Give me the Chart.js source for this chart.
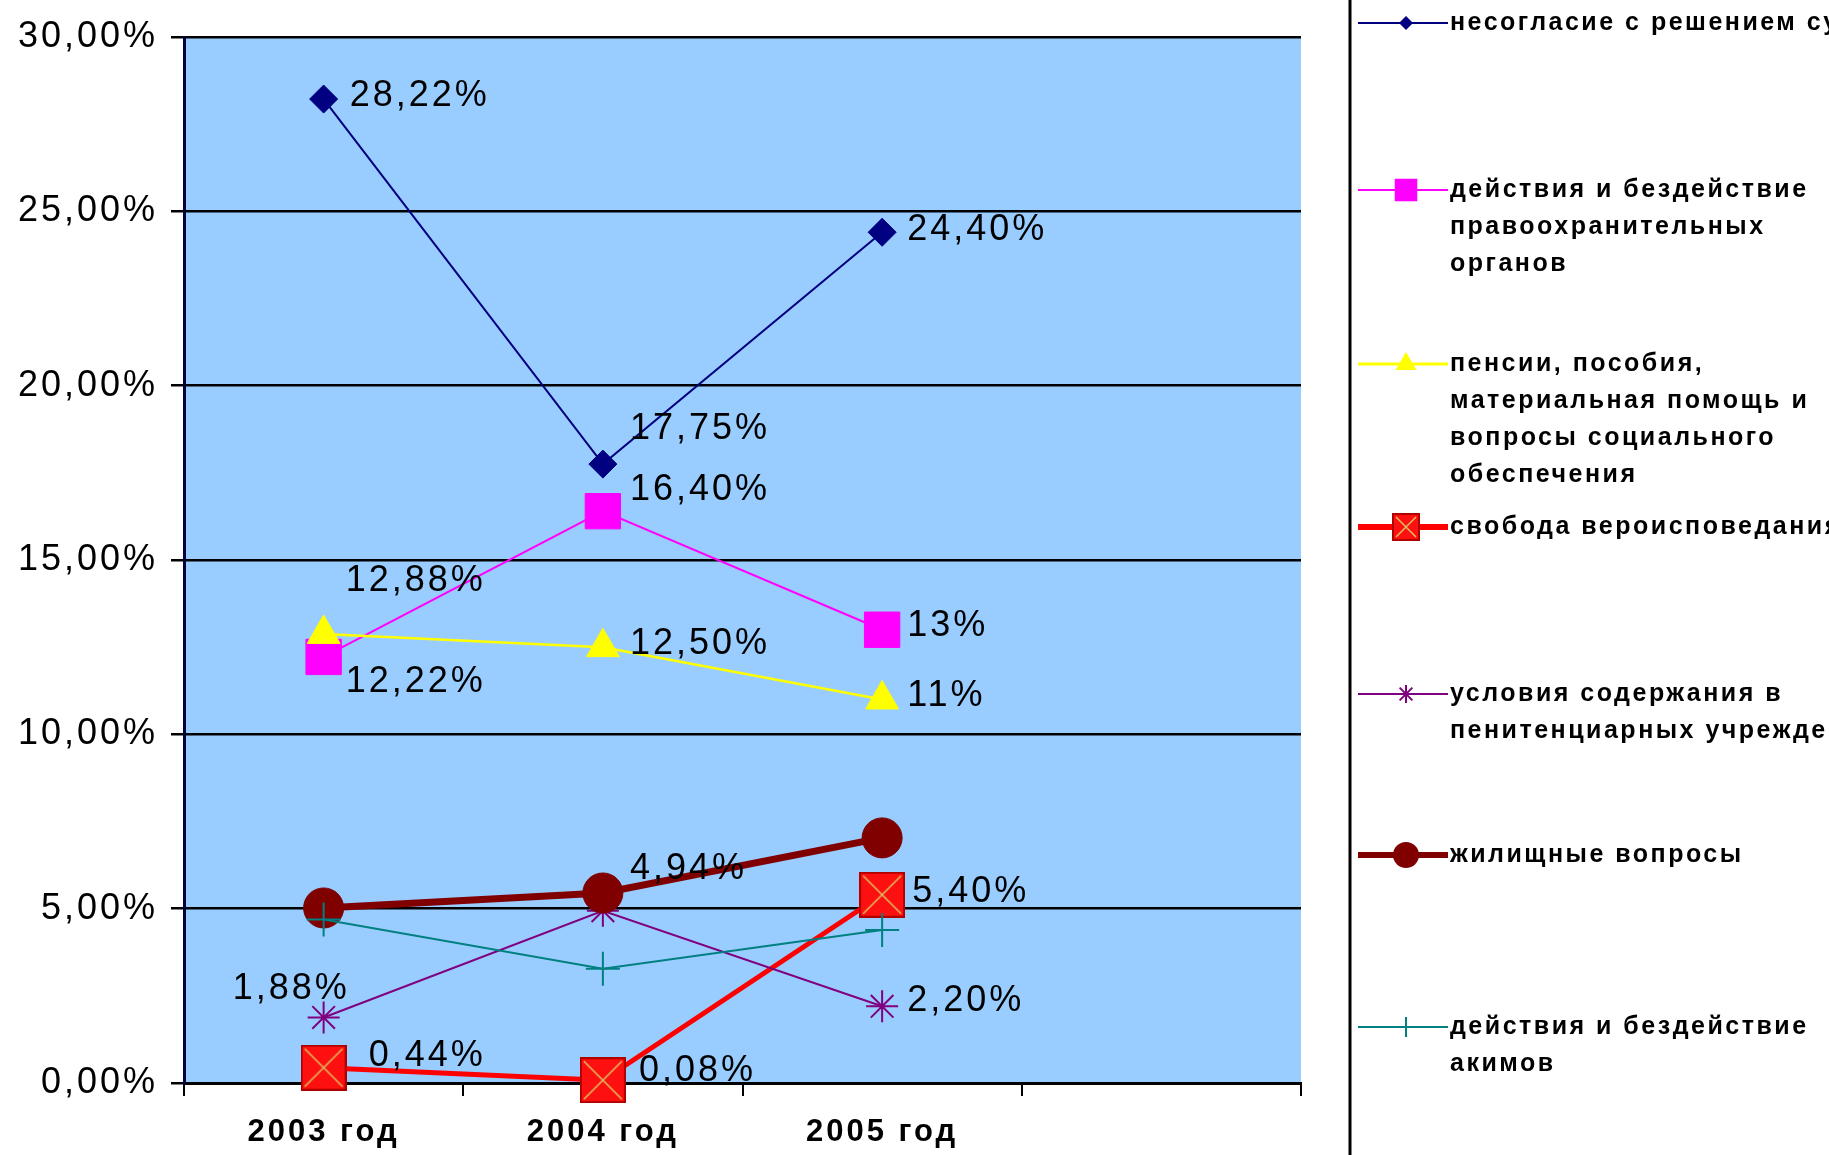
<!DOCTYPE html>
<html><head><meta charset="utf-8">
<script src="https://cdn.jsdelivr.net/npm/chart.js@4.4.0/dist/chart.umd.min.js"></script>
<style>html,body{margin:0;padding:0;background:#fff;overflow:hidden}#wrap{width:1829px;height:1155px;position:relative}canvas{display:block}</style>
</head><body><div id="wrap"><canvas id="c" width="1829" height="1155" style="width:1829px;height:1155px"></canvas></div>
<script>
// ---- data ----
const categories = ['2003 год', '2004 год', '2005 год', ''];
const yTicks = [0, 5, 10, 15, 20, 25, 30];

const nameNesoglasie = ['несогласие с решением суда'];
const nameProokhran = ['действия и бездействие', 'правоохранительных', 'органов'];
const namePensii = ['пенсии, пособия,', 'материальная помощь и', 'вопросы социального', 'обеспечения'];
const nameSvoboda = ['свобода вероисповедания'];
const nameUsloviya = ['условия содержания в', 'пенитенциарных учреждениях'];
const nameZhilye = ['жилищные вопросы'];
const nameAkimy = ['действия и бездействие', 'акимов'];

const valNesoglasie = [28.22, 17.75, 24.40, null];
const valProokhran = [12.22, 16.40, 13.00, null];
const valPensii = [12.88, 12.50, 11.00, null];
const valSvoboda = [0.44, 0.08, 5.40, null];
const valUsloviya = [1.88, 4.94, 2.20, null];
const valZhilye = [5.02, 5.45, 7.03, null];
const valAkimy = [4.69, 3.28, 4.39, null];

const lblNesoglasie = ['28,22%', '17,75%', '24,40%'];
const lblProokhran = ['12,22%', '16,40%', '13%'];
const lblPensii = ['12,88%', '12,50%', '11%'];
const lblSvoboda = ['0,44%', '0,08%', '5,40%'];
const lblUsloviya = ['1,88%', '4,94%', '2,20%'];
const lblZhilye = [null, null, null];
const lblAkimy = [null, null, null];

// ---- styling (positions of labels relative to points) ----
const labelOffsets = [
  [[26, -3], [27, -35], [25, -2]],
  [[22, 25], [27, -21], [25, -4]],
  [[22, -53], [27, -3], [25, -3]],
  [[45, -12], [36, -9], [30, -3]],
  [[-91, -28], [27, -42], [25, -5]],
  [null, null, null],
  [null, null, null]
];

function makeRedMarker(s) {
  const cv = document.createElement('canvas');
  cv.width = s; cv.height = s;
  const c = cv.getContext('2d');
  c.fillStyle = '#FF1010';
  c.fillRect(0, 0, s, s);
  c.strokeStyle = '#B00000';
  c.lineWidth = 2;
  c.strokeRect(1, 1, s - 2, s - 2);
  c.strokeStyle = '#D8C060';
  c.lineWidth = 1.5;
  c.beginPath();
  c.moveTo(4, 4); c.lineTo(s - 4, s - 4);
  c.moveTo(s - 4, 4); c.lineTo(4, s - 4);
  c.stroke();
  return cv;
}
const redMarker = makeRedMarker(46);
const redMarkerSmall = makeRedMarker(28);

const FONT = '"Liberation Sans", Arial, sans-serif';

const series = [
  {name: nameNesoglasie, data: valNesoglasie, lbl: lblNesoglasie, color: '#000080', width: 2, ps: 'rectRot', r: 14, lw: 2, lr: 7},
  {name: nameProokhran, data: valProokhran, lbl: lblProokhran, color: '#FF00FF', width: 2, ps: 'rect', r: 25, lw: 2, lr: 15},
  {name: namePensii, data: valPensii, lbl: lblPensii, color: '#FFFF00', width: 2.5, ps: 'triangle', r: 19, lw: 3, lr: 12},
  {name: nameSvoboda, data: valSvoboda, lbl: lblSvoboda, color: '#FF0000', width: 5, ps: redMarker, r: 23, lw: 6, lr: 14},
  {name: nameUsloviya, data: valUsloviya, lbl: lblUsloviya, color: '#800080', width: 2, ps: 'star', r: 16, lw: 2, lr: 9},
  {name: nameZhilye, data: valZhilye, lbl: lblZhilye, color: '#800000', width: 7, ps: 'circle', r: 20, lw: 6, lr: 13},
  {name: nameAkimy, data: valAkimy, lbl: lblAkimy, color: '#008080', width: 2, ps: 'cross', r: 17, lw: 2, lr: 10}
];

const datasets = series.map((s, i) => ({
  label: s.name.join(' '),
  data: s.data,
  borderColor: s.color,
  backgroundColor: s.color,
  borderWidth: s.width,
  pointStyle: s.ps,
  pointRadius: s.r,
  pointBorderWidth: (s.ps === 'star' || s.ps === 'cross') ? 2 : 1,
  pointBorderColor: s.color,
  pointBackgroundColor: s.color,
  tension: 0,
  clip: false,
  order: series.length - i
}));

const bgPlugin = {
  id: 'bg',
  beforeDraw(chart) {
    const {ctx, chartArea: a} = chart;
    ctx.letterSpacing = '3px';
    ctx.save();
    ctx.fillStyle = '#99CCFF';
    ctx.fillRect(a.left, a.top, a.right - a.left, a.bottom - a.top);
    ctx.restore();
  }
};

const labelPlugin = {
  id: 'vlabels',
  afterDatasetsDraw(chart) {
    const ctx = chart.ctx;
    ctx.save();
    ctx.font = '36px ' + FONT;
    ctx.letterSpacing = '3px';
    ctx.fillStyle = '#000';
    ctx.textAlign = 'left';
    ctx.textBaseline = 'middle';
    series.forEach((s, i) => {
      const meta = chart.getDatasetMeta(i);
      s.lbl.forEach((t, j) => {
        const off = labelOffsets[i][j];
        if (!t || !off) return;
        const el = meta.data[j];
        ctx.fillText(t, el.x + off[0], el.y + off[1]);
      });
    });
    ctx.restore();
  }
};

function drawMarker(ctx, s, x, y) {
  const r = s.lr;
  ctx.save();
  ctx.fillStyle = s.color; ctx.strokeStyle = s.color; ctx.lineWidth = 2;
  ctx.beginPath();
  if (s.ps === 'rectRot') {
    ctx.moveTo(x, y - r); ctx.lineTo(x + r, y); ctx.lineTo(x, y + r); ctx.lineTo(x - r, y); ctx.closePath(); ctx.fill();
  } else if (s.ps === 'rect') {
    ctx.fillRect(x - r * 0.75, y - r * 0.75, r * 1.5, r * 1.5);
  } else if (s.ps === 'triangle') {
    ctx.moveTo(x, y - r); ctx.lineTo(x + r * 0.87, y + r * 0.5); ctx.lineTo(x - r * 0.87, y + r * 0.5); ctx.closePath(); ctx.fill();
  } else if (s.ps === 'star') {
    for (let k = 0; k < 4; k++) {
      const a = k * Math.PI / 4;
      ctx.moveTo(x + Math.cos(a) * r, y + Math.sin(a) * r);
      ctx.lineTo(x - Math.cos(a) * r, y - Math.sin(a) * r);
    }
    ctx.stroke();
  } else if (s.ps === 'circle') {
    ctx.arc(x, y, r, 0, Math.PI * 2); ctx.fill();
  } else if (s.ps === 'cross') {
    ctx.moveTo(x, y - r); ctx.lineTo(x, y + r); ctx.moveTo(x - r, y); ctx.lineTo(x + r, y); ctx.stroke();
  } else {
    ctx.drawImage(redMarkerSmall, x - 14, y - 14);
  }
  ctx.restore();
}

const legendY = [23, 190, 364, 527, 694, 855, 1027];
const legendPlugin = {
  id: 'customLegend',
  afterDraw(chart) {
    const ctx = chart.ctx;
    ctx.save();
    ctx.strokeStyle = '#000';
    ctx.lineWidth = 3;
    ctx.beginPath();
    ctx.moveTo(1350, 0); ctx.lineTo(1350, 1155); ctx.stroke();
    ctx.font = 'bold 25px ' + FONT;
    ctx.letterSpacing = '2.5px';
    ctx.fillStyle = '#000';
    ctx.textAlign = 'left';
    ctx.textBaseline = 'middle';
    series.forEach((s, i) => {
      const y = legendY[i];
      ctx.strokeStyle = s.color;
      ctx.lineWidth = s.lw;
      ctx.beginPath(); ctx.moveTo(1358, y); ctx.lineTo(1448, y); ctx.stroke();
      drawMarker(ctx, s, 1406, y);
      s.name.forEach((line, k) => ctx.fillText(line, 1450, y + k * 37));
    });
    ctx.restore();
  }
};

new Chart(document.getElementById('c'), {
  type: 'line',
  data: {labels: categories, datasets},
  plugins: [bgPlugin, labelPlugin, legendPlugin],
  options: {
    responsive: false,
    animation: false,
    devicePixelRatio: 1,
    layout: {padding: {left: 0, right: 528, top: 37, bottom: 0}},
    plugins: {legend: {display: false}, tooltip: {enabled: false}},
    scales: {
      x: {
        offset: true,
        grid: {display: true, offset: true, drawOnChartArea: false, drawTicks: true, tickLength: 13, color: '#000', lineWidth: 2},
        border: {display: true, color: '#000', width: 3},
        ticks: {font: {family: FONT, size: 31, weight: 'bold'}, color: '#000', padding: 18, maxRotation: 0, autoSkip: false},
        afterFit(scale) { scale.height = 72; }
      },
      y: {
        min: 0, max: 30,
        afterBuildTicks(scale) { scale.ticks = yTicks.map(v => ({value: v})); },
        grid: {color: '#000', lineWidth: 2.5, drawTicks: true, tickLength: 13},
        border: {display: true, color: '#00003A', width: 3},
        ticks: {font: {family: FONT, size: 36}, color: '#000', padding: 13,
          callback: v => v.toFixed(2).replace('.', ',') + '%'},
        afterFit(scale) { scale.width = 184; }
      }
    }
  }
});
</script>
</body></html>
